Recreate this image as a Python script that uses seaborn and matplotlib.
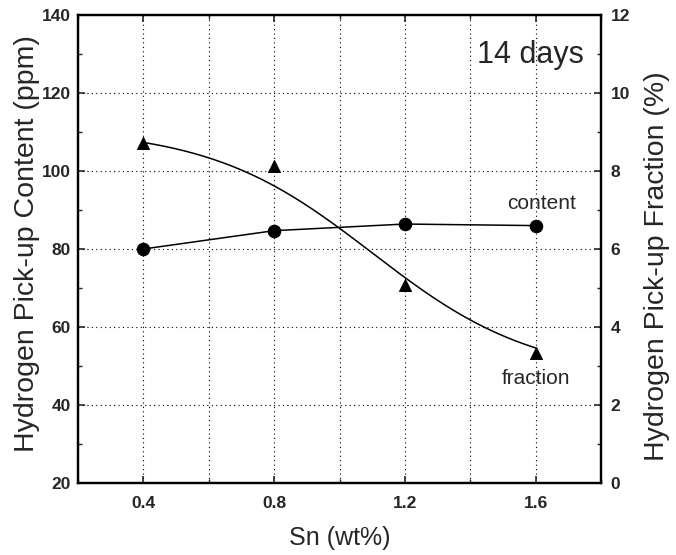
import matplotlib
matplotlib.use("Agg")
import matplotlib.pyplot as plt
import seaborn as sns
import numpy as np
import pandas as pd
from matplotlib.ticker import MultipleLocator

# ---- data ----
sn_wt = [0.4, 0.8, 1.2, 1.6]
content_ppm = [80.0, 84.7, 86.4, 86.0]
fraction_pct = [8.73, 8.12, 5.07, 3.34]

# Boltzmann fit drawn through the fraction data: [A1, A2, x0, dx] (in %)
fraction_fit = [9.1, 2.7, 1.10, 0.25]

tick_x = [0.4, 0.8, 1.2, 1.6]
tick_x_labels = ["0.4", "0.8", "1.2", "1.6"]

df = pd.DataFrame({"Sn": sn_wt, "content": content_ppm, "fraction": fraction_pct})

a1, a2, x0, dx = fraction_fit
xs = np.linspace(min(sn_wt), max(sn_wt), 200)
fit_df = pd.DataFrame({"Sn": xs, "fraction": a2 + (a1 - a2) / (1 + np.exp((xs - x0) / dx))})

sns.set_style("ticks")
plt.rcParams['font.family'] = ['Liberation Sans', 'DejaVu Sans']

fig = plt.figure(figsize=(6.76, 5.55), dpi=100)
ax = fig.add_axes([78/676, 1-483/555, (601-78)/676, (483-15)/555])
ax2 = ax.twinx()

# content (left axis) — connected points
sns.lineplot(data=df, x="Sn", y="content", ax=ax, color="black", lw=1.1,
             marker="o", markersize=9, markeredgecolor="black", estimator=None)

# fraction (right axis) — fitted curve + triangles
sns.lineplot(data=fit_df, x="Sn", y="fraction", ax=ax2, color="black", lw=1.1, estimator=None)
sns.scatterplot(data=df, x="Sn", y="fraction", ax=ax2, marker="^", s=75,
                color="black", edgecolor="black", zorder=5)

ax.set_xlim(0.2, 1.8)
ax.set_ylim(20, 140)
ax2.set_ylim(0, 12)

ax.xaxis.set_minor_locator(MultipleLocator(0.2))
ax.set_xticks(tick_x)
ax.set_xticklabels(tick_x_labels)
ax.yaxis.set_major_locator(MultipleLocator(20))
ax.yaxis.set_minor_locator(MultipleLocator(10))
ax2.yaxis.set_major_locator(MultipleLocator(2))
ax2.yaxis.set_minor_locator(MultipleLocator(1))

ax.grid(True, which="major", axis="y", ls=(0, (1, 3)), color="black", lw=0.8)
ax.grid(True, which="both", axis="x", ls=(0, (1, 3)), color="black", lw=0.8)

for a in (ax, ax2):
    for s in a.spines.values():
        s.set_linewidth(1.6)
        s.set_color("black")

ax.tick_params(axis="x", which="major", direction="in", length=5, width=1.2,
               labelsize=12.5, top=True, pad=9)
ax.tick_params(axis="y", which="major", direction="in", length=5, width=1.2,
               labelsize=12.5, right=False, pad=5)
ax.tick_params(axis="both", which="minor", direction="in", length=3, width=1.0, top=True)
ax2.tick_params(axis="y", which="major", direction="in", length=5, width=1.2,
                labelsize=12.5, pad=7)
ax2.tick_params(axis="y", which="minor", direction="in", length=3, width=1.0)

for lab in ax.get_xticklabels() + ax.get_yticklabels() + ax2.get_yticklabels():
    lab.set_fontweight("bold")

ax.set_xlabel("Sn (wt%)", fontsize=18)
ax.set_ylabel("Hydrogen Pick-up Content (ppm)", fontsize=20.5)
ax2.set_ylabel("Hydrogen Pick-up Fraction (%)", fontsize=20.5)
ax.xaxis.set_label_coords(0.5, -0.092)
ax.yaxis.set_label_coords(-0.072, 0.511)
ax2.yaxis.set_label_coords(1.082, 0.464)

ax.text(1.618, 91.6, "content", ha="center", va="center", fontsize=15)
ax.text(1.60, 46.9, "fraction", ha="center", va="center", fontsize=15)
ax.text(1.583, 129.7, "14 days", ha="center", va="center", fontsize=22)

fig.savefig("out.png", dpi=100)
